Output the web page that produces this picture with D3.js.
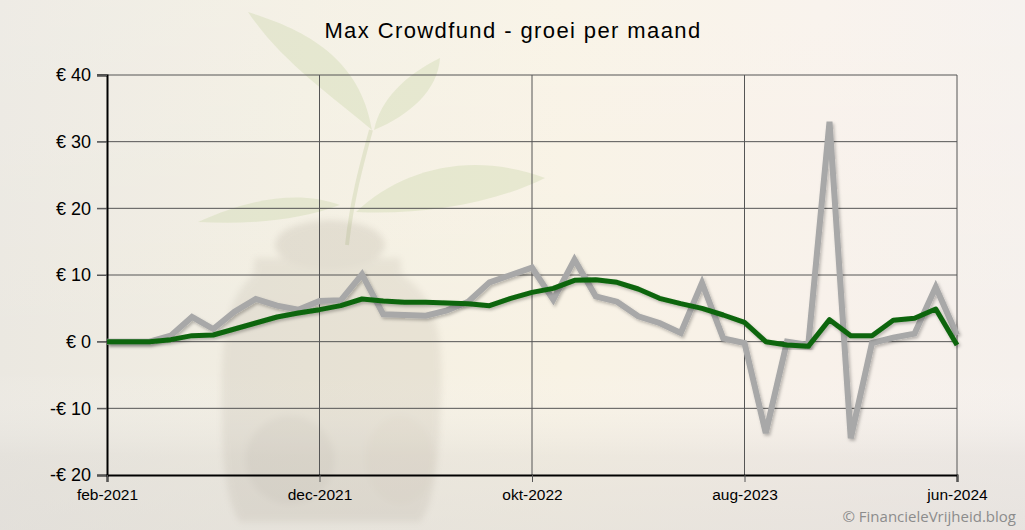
<!DOCTYPE html>
<html>
<head>
<meta charset="utf-8">
<script src="https://cdn.jsdelivr.net/npm/d3@7"></script>
<style>
  html, body { margin: 0; padding: 0; background: #f2eee6; }
  svg { display: block; }
</style>
</head>
<body>
<div id="chart"></div>
<script>
// ---------- DATA ----------
const title = "Max Crowdfund - groei per maand";
const months = [
  "feb-2021","mrt-2021","apr-2021","mei-2021","jun-2021","jul-2021","aug-2021","sep-2021","okt-2021","nov-2021",
  "dec-2021","jan-2022","feb-2022","mrt-2022","apr-2022","mei-2022","jun-2022","jul-2022","aug-2022","sep-2022",
  "okt-2022","nov-2022","dec-2022","jan-2023","feb-2023","mrt-2023","apr-2023","mei-2023","jun-2023","jul-2023",
  "aug-2023","sep-2023","okt-2023","nov-2023","dec-2023","jan-2024","feb-2024","mrt-2024","apr-2024","mei-2024",
  "jun-2024"
];
// monthly growth (grey)
const groei = [
  0, 0, 0, 0.9, 3.7, 1.9, 4.5, 6.4, 5.4, 4.8,
  6.1, 6.2, 10.1, 4.1, 4.0, 3.9, 4.7, 6.0, 8.9, 10.0,
  11.1, 6.3, 12.3, 6.8, 6.0, 3.8, 2.8, 1.3, 8.8, 0.5,
  -0.2, -13.7, 0.0, -0.5, 33.0, -14.5, -0.2, 0.6, 1.2, 8.2,
  1.0
];
// moving average (green)
const gemiddelde = [
  0, 0, 0, 0.3, 0.9, 1.0, 1.9, 2.8, 3.7, 4.3,
  4.8, 5.4, 6.4, 6.1, 5.9, 5.9, 5.8, 5.7, 5.4, 6.5,
  7.4, 8.0, 9.2, 9.3, 8.9, 7.9, 6.5, 5.7, 5.0, 4.0,
  2.9, 0.0, -0.5, -0.7, 3.3, 0.9, 0.9, 3.2, 3.5, 4.9,
  -0.5
];
const xTickLabels = ["feb-2021","dec-2021","okt-2022","aug-2023","jun-2024"];
const yTicks = [-20, -10, 0, 10, 20, 30, 40];
const copyright = "© FinancieleVrijheid.blog";

// ---------- LAYOUT ----------
const W = 1025, H = 530;
const plot = { left: 107, right: 957, top: 75, bottom: 475 };

const svg = d3.select("#chart").append("svg")
  .attr("width", W).attr("height", H);

const defs = svg.append("defs");
const bgH = defs.append("linearGradient").attr("id", "bgH").attr("x1", 0).attr("x2", 1).attr("y1", 0).attr("y2", 0);
[["0%", "#ebe8e1"], ["30%", "#f3efe2"], ["55%", "#f8f2e4"], ["80%", "#f8f1ea"], ["100%", "#f5f0ec"]]
  .forEach(([o, c]) => bgH.append("stop").attr("offset", o).attr("stop-color", c));
const bgV = defs.append("linearGradient").attr("id", "bgV").attr("x1", 0).attr("x2", 0).attr("y1", 0).attr("y2", 1);
[["0%", "#ffffff", 0.15], ["70%", "#ffffff", 0], ["86%", "#d9d6d2", 0.35], ["100%", "#dcd9d5", 0.55]]
  .forEach(([o, c, op]) => bgV.append("stop").attr("offset", o).attr("stop-color", c).attr("stop-opacity", op));

const shadow = defs.append("filter").attr("id", "shadow")
  .attr("x", "-5%").attr("y", "-5%").attr("width", "110%").attr("height", "110%");
shadow.append("feDropShadow").attr("dx", 1.5).attr("dy", 2).attr("stdDeviation", 1.5)
  .attr("flood-color", "#000").attr("flood-opacity", 0.25);
const blur = defs.append("filter").attr("id", "blur");
blur.append("feGaussianBlur").attr("stdDeviation", 3);

// background
svg.append("rect").attr("width", W).attr("height", H).attr("fill", "url(#bgH)");
svg.append("rect").attr("width", W).attr("height", H).attr("fill", "url(#bgV)");

// faint decorative photo shapes (plant + jar)
const deco = svg.append("g").attr("opacity", 0.45);
const leafFill = "#d3dcb6";
deco.append("path").attr("d", "M372,130 C330,95 280,60 248,12 C300,28 360,55 372,130 Z").attr("fill", leafFill);
deco.append("path").attr("d", "M374,130 C380,100 405,75 440,58 C438,90 410,115 374,130 Z").attr("fill", leafFill);
deco.append("path").attr("d", "M356,212 C400,170 470,150 545,178 C490,205 420,215 356,212 Z").attr("fill", leafFill);
deco.append("path").attr("d", "M340,205 C300,190 250,198 198,222 C250,225 300,220 340,205 Z").attr("fill", leafFill);
deco.append("path").attr("d", "M371,130 C360,170 352,200 347,245").attr("stroke", "#cfd6b0").attr("stroke-width", 4).attr("fill", "none");
const jar = svg.append("g").attr("opacity", 0.12).attr("filter", "url(#blur)");
jar.append("path")
  .attr("d", "M255,258 L400,258 L402,275 C440,300 445,340 440,420 C438,480 430,510 420,522 L240,522 C228,505 222,470 222,420 C220,340 225,300 253,275 Z")
  .attr("fill", "#8d8272");
jar.append("ellipse").attr("cx", 330).attr("cy", 245).attr("rx", 55).attr("ry", 25).attr("fill", "#6e6252");
jar.append("ellipse").attr("cx", 290).attr("cy", 460).attr("rx", 45).attr("ry", 45).attr("fill", "#5b4f40");
jar.append("ellipse").attr("cx", 400).attr("cy", 460).attr("rx", 35).attr("ry", 45).attr("fill", "#7c6c55");

// ---------- SCALES ----------
const x = d3.scalePoint().domain(months).range([plot.left, plot.right]);
const y = d3.scaleLinear().domain([-20, 40]).range([plot.bottom, plot.top]);

// ---------- GRID ----------
const grid = svg.append("g");
grid.selectAll("line.h").data(yTicks.filter(d => d !== -20)).join("line")
  .attr("x1", plot.left - 10).attr("x2", plot.right)
  .attr("y1", d => y(d)).attr("y2", d => y(d))
  .attr("stroke", "#555").attr("stroke-width", 1);
grid.selectAll("line.v").data(xTickLabels.slice(1)).join("line")
  .attr("x1", d => x(d)).attr("x2", d => x(d))
  .attr("y1", plot.top).attr("y2", plot.bottom)
  .attr("stroke", "#555").attr("stroke-width", 1);

// ---------- AXES ----------
const yAxis = d3.axisLeft(y).tickValues(yTicks).tickSize(10).tickPadding(6)
  .tickFormat(d => (d < 0 ? "-€ " + Math.abs(d) : "€ " + d));
const gy = svg.append("g").attr("transform", `translate(${plot.left},0)`).call(yAxis);
gy.select(".domain").attr("stroke", "#000").attr("stroke-width", 2);
gy.selectAll(".tick line").attr("stroke", "#555");
gy.selectAll(".tick text").attr("font-family", "Liberation Sans, Arial, sans-serif")
  .attr("font-size", 18).attr("fill", "#000");

const xAxis = d3.axisBottom(x).tickValues(xTickLabels).tickSize(7).tickPadding(7);
const gx = svg.append("g").attr("transform", `translate(0,${plot.bottom})`).call(xAxis);
gx.select(".domain").attr("stroke", "#000").attr("stroke-width", 2);
gx.selectAll(".tick line").attr("stroke", "#555");
gx.selectAll(".tick text").attr("font-family", "Liberation Sans, Arial, sans-serif")
  .attr("font-size", 15.5).attr("fill", "#000");

// ---------- LINES ----------
const line = d3.line().x((d, i) => x(months[i])).y(d => y(d));
svg.append("path").datum(groei)
  .attr("d", line).attr("fill", "none")
  .attr("stroke", "#a8a8a8").attr("stroke-width", 6)
  .attr("stroke-linejoin", "miter").attr("stroke-miterlimit", 4)
  .attr("filter", "url(#shadow)");
svg.append("path").datum(gemiddelde)
  .attr("d", line).attr("fill", "none")
  .attr("stroke", "#0b650b").attr("stroke-width", 5)
  .attr("stroke-linejoin", "round")
  .attr("filter", "url(#shadow)");

// ---------- TEXT ----------
svg.append("text").text(title)
  .attr("x", W / 2 + 0.5).attr("y", 38).attr("text-anchor", "middle")
  .attr("font-family", "Liberation Sans, Arial, sans-serif").attr("font-size", 22)
  .attr("letter-spacing", 1.4)
  .attr("fill", "#000");

svg.append("text").text(copyright)
  .attr("x", 1016).attr("y", 522).attr("text-anchor", "end")
  .attr("font-family", "Liberation Sans Narrow, Open Sans, sans-serif").attr("font-size", 15)
  .attr("fill", "#8c8c8c");
</script>
</body>
</html>
